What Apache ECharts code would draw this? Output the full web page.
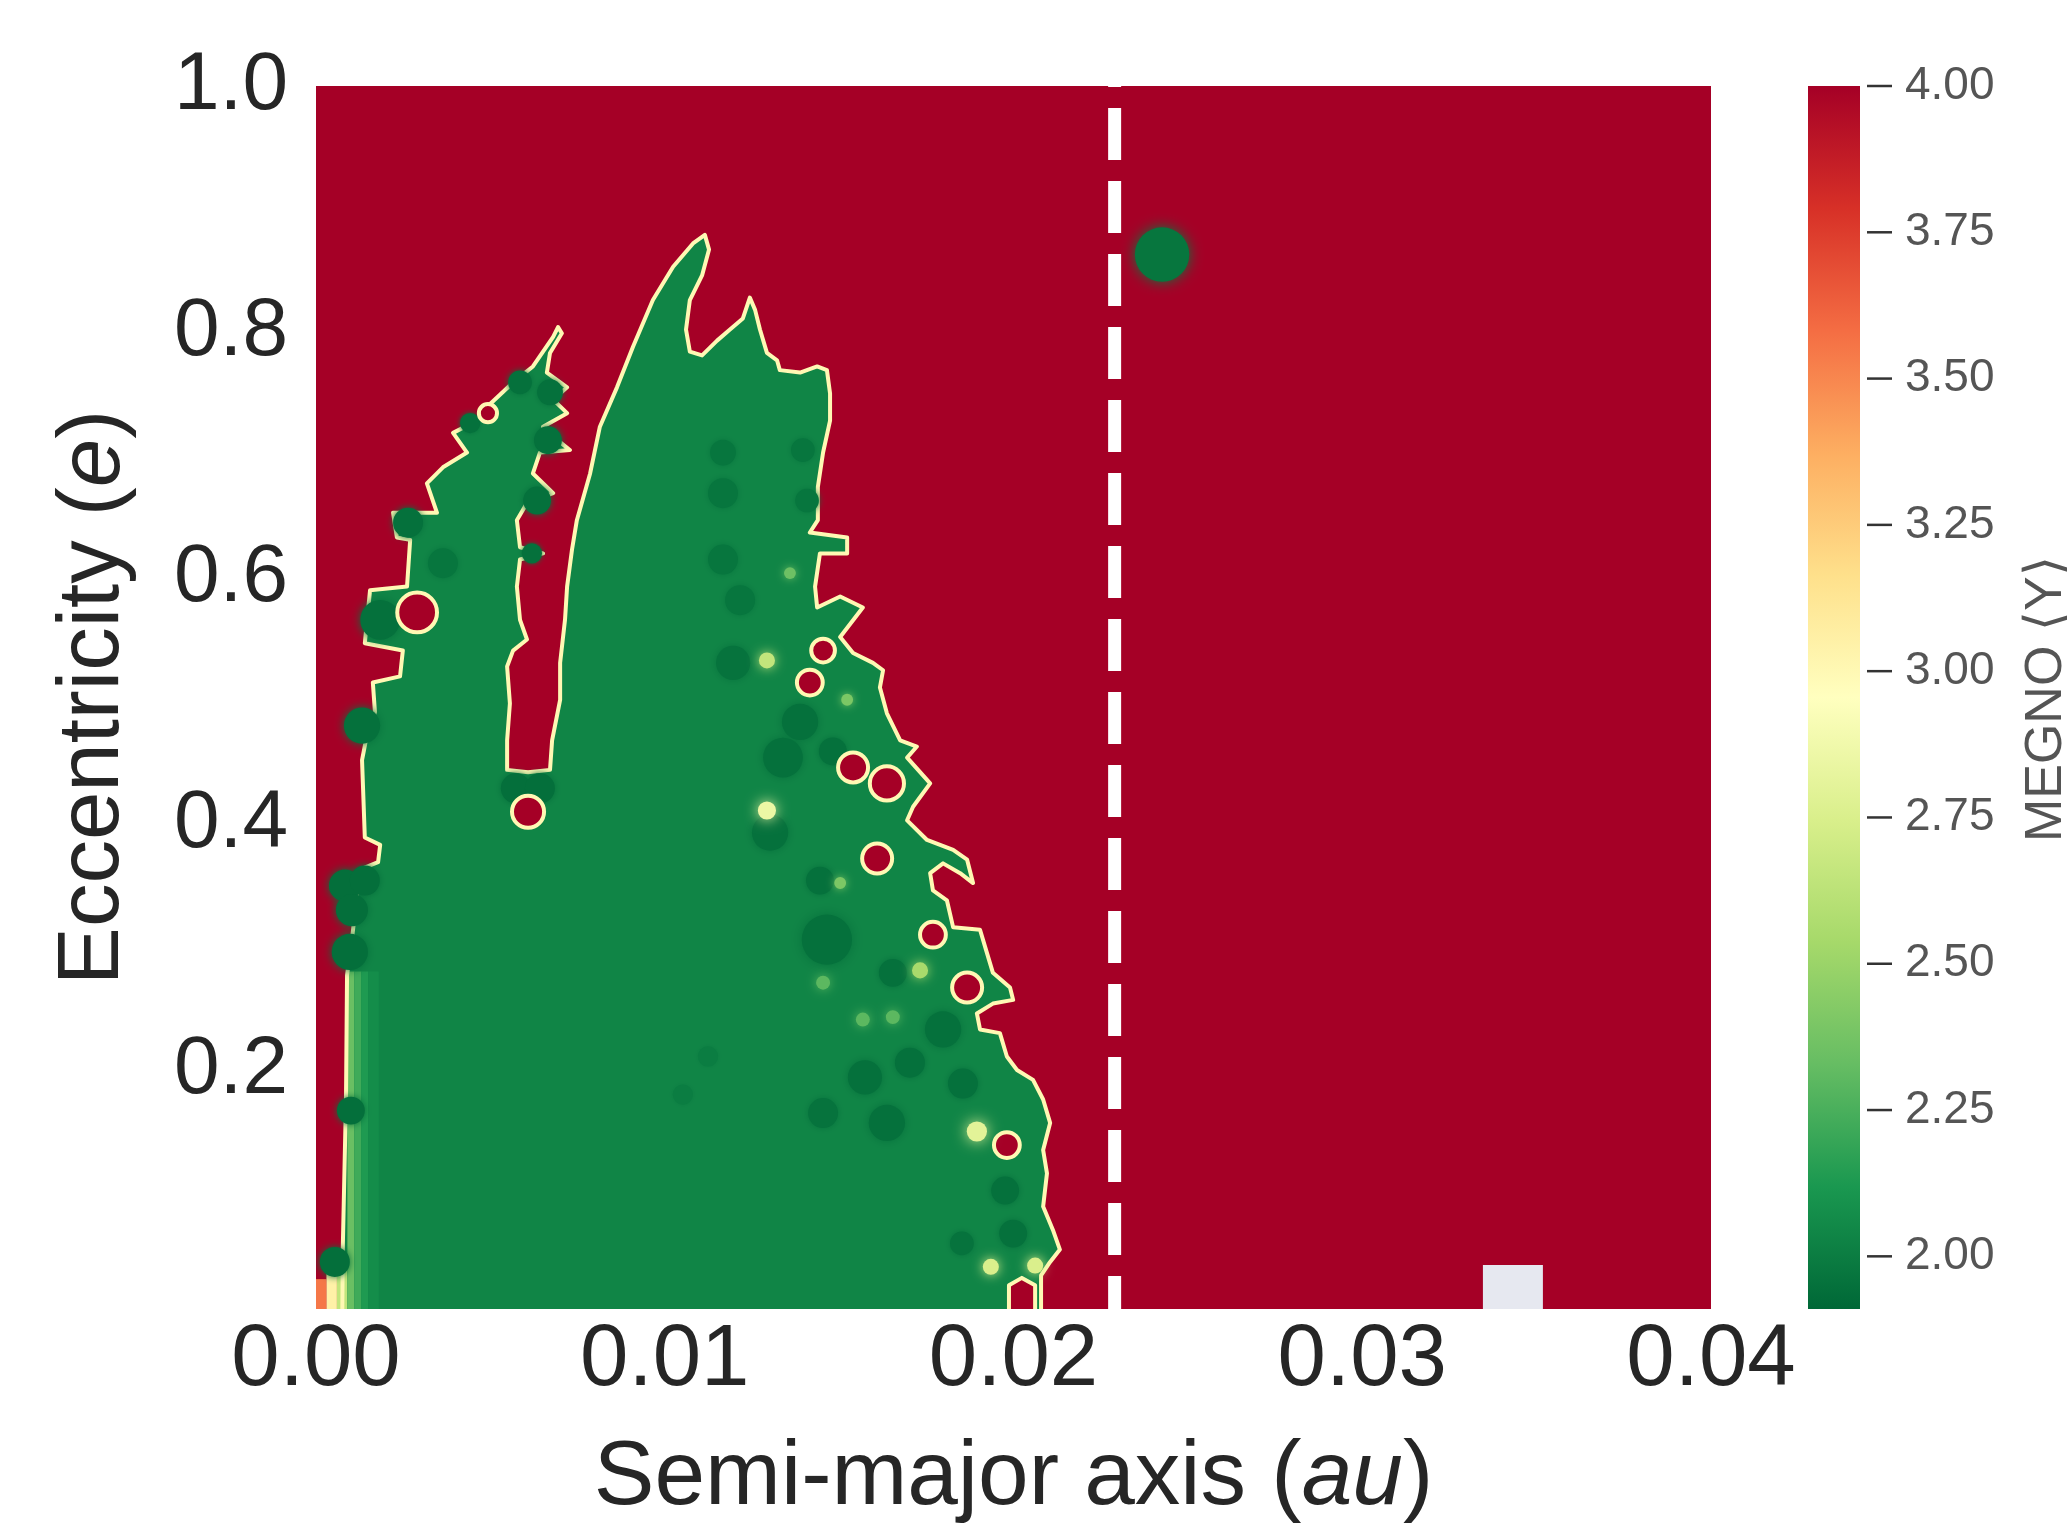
<!DOCTYPE html>
<html>
<head>
<meta charset="utf-8">
<title>MEGNO stability map</title>
<script src="https://cdn.jsdelivr.net/npm/echarts@6/dist/echarts.min.js"></script>
<style>
  html, body { margin: 0; padding: 0; background: #fff; }
  #chart { width: 2067px; height: 1536px; }
</style>
</head>
<body>
<div id="chart"></div>
<script>
// axes
var aRange = [0, 0.04];
var eRange = [0.0057, 1.0];
var aTicks = [0, 0.01, 0.02, 0.03, 0.04];
var eTicks = [0.2, 0.4, 0.6, 0.8, 1.0];
var megnoRange = [1.91, 4.0];
var megnoTicks = [2.0, 2.25, 2.5, 2.75, 3.0, 3.25, 3.5, 3.75, 4.0];

// MEGNO levels of the big areas
var megnoChaotic = 4.0;
var megnoStable = 2.035;
var megnoEdge = 3.0;

// outline of the stable region, [a (au), e]
var stableOutline = [
  [0.00075, -0.011], [0.00077, 0.058], [0.00086, 0.176], [0.00089, 0.277], [0.00103, 0.306],
  [0.00126, 0.363], [0.00178, 0.369], [0.00184, 0.383], [0.00140, 0.389], [0.00132, 0.452],
  [0.00143, 0.468], [0.00169, 0.491], [0.00163, 0.515], [0.00241, 0.520], [0.00249, 0.541],
  [0.00140, 0.547], [0.00155, 0.590], [0.00261, 0.593], [0.00270, 0.631], [0.00232, 0.633],
  [0.00221, 0.653], [0.00347, 0.653], [0.00318, 0.677], [0.00364, 0.690], [0.00433, 0.702],
  [0.00393, 0.718], [0.00462, 0.728], [0.00490, 0.739], [0.00565, 0.759], [0.00622, 0.772],
  [0.00680, 0.796], [0.00694, 0.804], [0.00705, 0.799], [0.00671, 0.783], [0.00662, 0.767],
  [0.00720, 0.755], [0.00680, 0.745], [0.00720, 0.734], [0.00651, 0.723], [0.00680, 0.715],
  [0.00728, 0.704], [0.00642, 0.702], [0.00622, 0.685], [0.00680, 0.669], [0.00605, 0.661],
  [0.00576, 0.647], [0.00585, 0.625], [0.00651, 0.620], [0.00585, 0.615], [0.00576, 0.593],
  [0.00585, 0.566], [0.00605, 0.550], [0.00565, 0.541], [0.00548, 0.528], [0.00556, 0.498],
  [0.00548, 0.468], [0.00548, 0.444], [0.00608, 0.442], [0.00671, 0.444], [0.00677, 0.468],
  [0.00700, 0.501], [0.00700, 0.531], [0.00714, 0.566], [0.00720, 0.593], [0.00734, 0.623],
  [0.00748, 0.647], [0.00786, 0.685], [0.00814, 0.723], [0.00863, 0.755], [0.00909, 0.788],
  [0.00966, 0.826], [0.01024, 0.853], [0.01081, 0.872], [0.01115, 0.879], [0.01127, 0.867],
  [0.01107, 0.846], [0.01072, 0.826], [0.01061, 0.802], [0.01072, 0.784], [0.01107, 0.781],
  [0.01150, 0.793], [0.01187, 0.802], [0.01224, 0.811], [0.01244, 0.828], [0.01259, 0.818],
  [0.01273, 0.802], [0.01293, 0.783], [0.01322, 0.777], [0.01330, 0.769], [0.01388, 0.767],
  [0.01437, 0.772], [0.01465, 0.769], [0.01474, 0.750], [0.01474, 0.728], [0.01454, 0.702],
  [0.01439, 0.674], [0.01439, 0.647], [0.01416, 0.637], [0.01523, 0.633], [0.01523, 0.620],
  [0.01445, 0.620], [0.01431, 0.593], [0.01437, 0.576], [0.01503, 0.585], [0.01568, 0.576],
  [0.01503, 0.552], [0.01540, 0.539], [0.01597, 0.531], [0.01626, 0.525], [0.01617, 0.511],
  [0.01637, 0.490], [0.01675, 0.468], [0.01723, 0.463], [0.01695, 0.454], [0.01761, 0.433],
  [0.01712, 0.414], [0.01695, 0.403], [0.01752, 0.387], [0.01827, 0.379], [0.01867, 0.371],
  [0.01884, 0.352], [0.01847, 0.360], [0.01798, 0.368], [0.01761, 0.360], [0.01769, 0.346],
  [0.01809, 0.338], [0.01827, 0.316], [0.01904, 0.314], [0.01924, 0.295], [0.01941, 0.279],
  [0.01990, 0.267], [0.01999, 0.257], [0.01941, 0.254], [0.01895, 0.246], [0.01904, 0.233],
  [0.01961, 0.230], [0.01981, 0.211], [0.02010, 0.200], [0.02056, 0.192], [0.02085, 0.176],
  [0.02105, 0.157], [0.02085, 0.135], [0.02096, 0.116], [0.02085, 0.089], [0.02113, 0.070],
  [0.02133, 0.054], [0.02105, 0.044], [0.02079, 0.033], [0.02079, -0.011], [0.02062, -0.011],
  [0.02062, 0.025], [0.02024, 0.031], [0.01987, 0.025], [0.01987, -0.011]
];

// strips along the inner edge at small a: [a0, a1, e0, e1, megno]
var leftFringe = [
  [0.0000, 0.0003, -0.02, 0.030, 3.55],
  [0.0003, 0.0006, -0.02, 0.036, 3.05],
  [0.0006, 0.0009, -0.02, 0.040, 2.65],
  [0.0009, 0.0011, -0.02, 0.280, 2.34],
  [0.0011, 0.0013, -0.02, 0.280, 2.22],
  [0.0013, 0.0015, -0.02, 0.280, 2.13],
  [0.0015, 0.0018, -0.02, 0.280, 2.07]
];

// darker (more regular) spots: [a, e, radius in au, megno]
var darkSpots = [
  [0.00083, 0.350, 0.00046, 1.94], [0.00140, 0.354, 0.00043, 1.94], [0.00103, 0.330, 0.00046, 1.94],
  [0.00097, 0.296, 0.00052, 1.94], [0.00100, 0.167, 0.00040, 1.94], [0.00054, 0.044, 0.00043, 1.94],
  [0.00184, 0.566, 0.00057, 1.95], [0.00132, 0.480, 0.00052, 1.95], [0.00264, 0.645, 0.00043, 1.95],
  [0.00364, 0.612, 0.00043, 1.97], [0.00671, 0.751, 0.00037, 1.95], [0.00665, 0.712, 0.00040, 1.95],
  [0.00634, 0.663, 0.00040, 1.95], [0.00619, 0.620, 0.00029, 1.95], [0.00585, 0.759, 0.00034, 1.95],
  [0.00442, 0.726, 0.00029, 1.95], [0.00573, 0.429, 0.00043, 1.94], [0.00642, 0.429, 0.00043, 1.94],
  [0.01167, 0.702, 0.00037, 1.97], [0.01167, 0.669, 0.00043, 1.97], [0.01167, 0.615, 0.00043, 1.97],
  [0.01216, 0.582, 0.00043, 1.97], [0.01396, 0.704, 0.00034, 1.97], [0.01408, 0.663, 0.00034, 1.97],
  [0.01196, 0.531, 0.00049, 1.96], [0.01388, 0.483, 0.00052, 1.95], [0.01339, 0.454, 0.00057, 1.95],
  [0.01482, 0.459, 0.00040, 1.95], [0.01302, 0.393, 0.00052, 1.95], [0.01465, 0.306, 0.00072, 1.95],
  [0.01445, 0.354, 0.00040, 1.95], [0.01654, 0.279, 0.00040, 1.95], [0.01798, 0.233, 0.00052, 1.95],
  [0.01574, 0.194, 0.00049, 1.95], [0.01703, 0.206, 0.00043, 1.95], [0.01855, 0.189, 0.00043, 1.95],
  [0.01454, 0.165, 0.00043, 1.96], [0.01637, 0.157, 0.00052, 1.95], [0.01976, 0.102, 0.00040, 1.95],
  [0.01852, 0.059, 0.00034, 1.96], [0.01999, 0.067, 0.00040, 1.95], [0.01124, 0.211, 0.00029, 2.00],
  [0.01052, 0.180, 0.00029, 2.00]
];

// chaotic holes inside the stable area: [a, e, radius in au]
var chaoticHoles = [
  [0.00290, 0.572, 0.00057], [0.00493, 0.734, 0.00026], [0.00608, 0.410, 0.00046],
  [0.01454, 0.541, 0.00034], [0.01416, 0.515, 0.00037], [0.01540, 0.446, 0.00043],
  [0.01637, 0.433, 0.00049], [0.01609, 0.372, 0.00043], [0.01769, 0.310, 0.00037],
  [0.01867, 0.267, 0.00043], [0.01981, 0.139, 0.00037]
];

// bright (marginal) spots: [a, e, radius in au, megno]
var brightSpots = [
  [0.01293, 0.411, 0.00026, 2.85], [0.01895, 0.150, 0.00029, 2.80], [0.01732, 0.281, 0.00023, 2.55],
  [0.01293, 0.533, 0.00023, 2.65], [0.01523, 0.501, 0.00017, 2.40], [0.01359, 0.604, 0.00017, 2.35],
  [0.01935, 0.040, 0.00023, 2.75], [0.02062, 0.041, 0.00023, 2.75], [0.01503, 0.352, 0.00017, 2.40],
  [0.01454, 0.271, 0.00020, 2.30], [0.01568, 0.241, 0.00020, 2.30], [0.01654, 0.243, 0.00020, 2.30]
];

// lone stable island beyond the line: [a, e, radius in au, megno]
var islandSpot = [[0.02426, 0.863, 0.00078, 1.97]];

// dashed line position (au)
var limitA = 0.0229;

// cell with no value: [a0, a1, e0, e1]
var missingCell = [[0.03346, 0.03518, 0.0057, 0.0415]];

var rdYlGnR = ['#006837', '#1a9850', '#66bd63', '#a6d96a', '#d9ef8b', '#ffffbf',
  '#fee08b', '#fdae61', '#f46d43', '#d73027', '#a50026'];
var sansFont = "'Liberation Sans', Arial, sans-serif";

function rectShape(api) {
  var tl = api.coord([api.value(1), api.value(4)]);
  var br = api.coord([api.value(2), api.value(3)]);
  return { x: tl[0], y: tl[1], width: br[0] - tl[0], height: br[1] - tl[1] };
}

function renderRect(params, api) {
  return { type: 'rect', shape: rectShape(api), style: { fill: api.visual('color') } };
}

function renderMissing(params, api) {
  return { type: 'rect', shape: rectShape(api), style: { fill: '#e6e8f0' } };
}

// colour bar: one rect spanning the MEGNO range, filled with the colour map
function renderColorbar(params, api) {
  var stops = rdYlGnR.map(function (c, i) { return { offset: i / (rdYlGnR.length - 1), color: c }; });
  return {
    type: 'rect', shape: rectShape(api),
    style: { fill: new echarts.graphic.LinearGradient(0, 1, 0, 0, stops) }
  };
}

// colour bar ticks, just right of the bar
function renderBarTick(params, api) {
  var p = api.coord([api.value(0), api.value(1)]);
  return {
    type: 'line',
    shape: { x1: p[0] + 7, y1: p[1], x2: p[0] + 32, y2: p[1] },
    style: { stroke: '#333333', lineWidth: 2.5 }
  };
}

function renderOutline(filled) {
  return function (params, api) {
    var pts = stableOutline.map(function (p) { return api.coord(p); });
    var style = filled
      ? { fill: api.visual('color') }
      : { fill: null, stroke: api.visual('color'), lineWidth: 4, lineJoin: 'round' };
    return { type: 'polygon', shape: { points: pts }, style: style };
  };
}

function renderDisc(params, api) {
  var c = api.coord([api.value(1), api.value(2)]);
  var r = api.size([api.value(3), 0])[0];
  var col = api.visual('color');
  return {
    type: 'circle', shape: { cx: c[0], cy: c[1], r: r },
    style: { fill: col, shadowBlur: r * 0.5, shadowColor: col }
  };
}

function renderHole(params, api) {
  var c = api.coord([api.value(1), api.value(2)]);
  var r = api.size([api.value(3), 0])[0];
  return { type: 'circle', shape: { cx: c[0], cy: c[1], r: r }, style: { fill: api.visual('color') } };
}

function renderRing(params, api) {
  var c = api.coord([api.value(1), api.value(2)]);
  var r = api.size([api.value(3), 0])[0];
  return {
    type: 'circle', shape: { cx: c[0], cy: c[1], r: r },
    style: { fill: null, stroke: api.visual('color'), lineWidth: 4 }
  };
}

function renderGlow(params, api) {
  var c = api.coord([api.value(1), api.value(2)]);
  var r = api.size([api.value(3), 0])[0];
  var col = api.visual('color');
  return {
    type: 'circle', shape: { cx: c[0], cy: c[1], r: r },
    style: { fill: col, shadowBlur: r * 1.5, shadowColor: col }
  };
}

function customSeries(name, data, render, z) {
  return {
    name: name, type: 'custom', coordinateSystem: 'cartesian2d',
    xAxisIndex: 0, yAxisIndex: 0, clip: true, silent: true, z: z,
    renderItem: render, data: data
  };
}

var backgroundData = [[megnoChaotic, aRange[0], aRange[1], eRange[0], eRange[1]]];
var fringeData = leftFringe.map(function (f) { return [f[4], f[0], f[1], f[2], f[3]]; });
var darkData = darkSpots.map(function (s) { return [s[3], s[0], s[1], s[2]]; });
var islandData = islandSpot.map(function (s) { return [s[3], s[0], s[1], s[2]]; });
var holeData = chaoticHoles.map(function (h) { return [megnoChaotic, h[0], h[1], h[2]]; });
var ringData = chaoticHoles.map(function (h) { return [megnoEdge, h[0], h[1], h[2]]; });
var glowData = brightSpots.map(function (s) { return [s[3], s[0], s[1], s[2]]; });
var missingData = missingCell.map(function (m) { return [0, m[0], m[1], m[2], m[3]]; });
var colorbarData = [[0, 0, 1, megnoRange[0], megnoRange[1]]];
var barTickData = megnoTicks.map(function (v) { return [1, v]; });

var myChart = echarts.init(document.getElementById('chart'));

var option = {
  animation: false,
  backgroundColor: '#ffffff',
  grid: [
    { left: 316, top: 86, width: 1395, height: 1223, containLabel: false, outerBoundsMode: 'none' },
    { left: 1808, top: 86, width: 52, height: 1223, containLabel: false, outerBoundsMode: 'none' }
  ],
  xAxis: [
    {
      type: 'value', gridIndex: 0, min: aRange[0], max: aRange[1],
      name: '{n|Semi-major axis (}{i|au}{n|)}',
      nameLocation: 'middle', nameGap: 124,
      nameTextStyle: {
        fontFamily: sansFont, fontSize: 91, color: '#262626',
        rich: {
          n: { fontFamily: sansFont, fontSize: 91, color: '#262626' },
          i: { fontFamily: sansFont, fontSize: 91, color: '#262626', fontStyle: 'italic' }
        }
      },
      axisLine: { show: false },
      axisTick: { show: false, customValues: aTicks },
      splitLine: { show: false },
      axisLabel: {
        customValues: aTicks, margin: 9, fontFamily: sansFont, fontSize: 87, color: '#262626',
        formatter: function (v) { return v.toFixed(2); }
      }
    },
    { type: 'value', gridIndex: 1, min: 0, max: 1, show: false }
  ],
  yAxis: [
    {
      type: 'value', gridIndex: 0, min: eRange[0], max: eRange[1],
      name: '{n|Eccentricity (}{i|e}{n|)}',
      nameLocation: 'middle', nameGap: 178,
      nameTextStyle: {
        fontFamily: sansFont, fontSize: 87, color: '#262626',
        rich: {
          n: { fontFamily: sansFont, fontSize: 87, color: '#262626' },
          i: { fontFamily: sansFont, fontSize: 87, color: '#262626', fontStyle: 'italic' }
        }
      },
      axisLine: { show: false },
      axisTick: { show: false, customValues: eTicks },
      splitLine: { show: false },
      axisLabel: {
        customValues: eTicks, margin: 28, fontFamily: sansFont, fontSize: 82, color: '#262626',
        formatter: function (v) { return v.toFixed(1); }
      }
    },
    {
      type: 'value', gridIndex: 1, min: megnoRange[0], max: megnoRange[1],
      position: 'right', offset: 7,
      axisLine: { show: false },
      axisTick: { show: false },
      splitLine: { show: false },
      axisLabel: {
        show: true, customValues: megnoTicks, margin: 38, fontFamily: sansFont, fontSize: 46, color: '#555555',
        formatter: function (v) { return v.toFixed(2); }
      }
    }
  ],
  visualMap: {
    type: 'continuous',
    show: false,
    min: megnoRange[0], max: megnoRange[1],
    dimension: 0,
    seriesIndex: [0, 1, 2, 3, 4, 5, 6, 7, 8],
    inRange: { color: rdYlGnR }
  },
  graphic: [
    {
      type: 'text', x: 2047, y: 699, rotation: Math.PI / 2,
      style: {
        text: 'MEGNO \u27E8Y\u27E9',
        fontFamily: "'Liberation Sans', 'DejaVu Sans', sans-serif",
        fontSize: 52, fill: '#555555', align: 'center', verticalAlign: 'middle'
      }
    }
  ],
  series: [
    customSeries('chaotic', backgroundData, renderRect, 1),
    customSeries('stable', [[megnoStable]], renderOutline(true), 2),
    customSeries('fringe', fringeData, renderRect, 3),
    customSeries('edge', [[megnoEdge]], renderOutline(false), 4),
    customSeries('dark spots', darkData, renderDisc, 5),
    customSeries('island', islandData, renderDisc, 6),
    customSeries('holes', holeData, renderHole, 7),
    customSeries('hole edges', ringData, renderRing, 8),
    customSeries('bright spots', glowData, renderGlow, 9),
    customSeries('missing', missingData, renderMissing, 10),
    {
      name: 'limit', type: 'line', xAxisIndex: 0, yAxisIndex: 0, z: 20, silent: true,
      symbol: 'none',
      data: [[limitA, eRange[1]], [limitA, eRange[0]]],
      lineStyle: { color: '#ffffff', width: 13, type: [52, 21], dashOffset: 51, cap: 'butt' }
    },
    {
      name: 'colorbar', type: 'custom', coordinateSystem: 'cartesian2d',
      xAxisIndex: 1, yAxisIndex: 1, silent: true, z: 2,
      renderItem: renderColorbar, data: colorbarData
    },
    {
      name: 'colorbar ticks', type: 'custom', coordinateSystem: 'cartesian2d',
      xAxisIndex: 1, yAxisIndex: 1, silent: true, z: 3, clip: false,
      renderItem: renderBarTick, data: barTickData
    }
  ]
};

myChart.setOption(option);
</script>
</body>
</html>
